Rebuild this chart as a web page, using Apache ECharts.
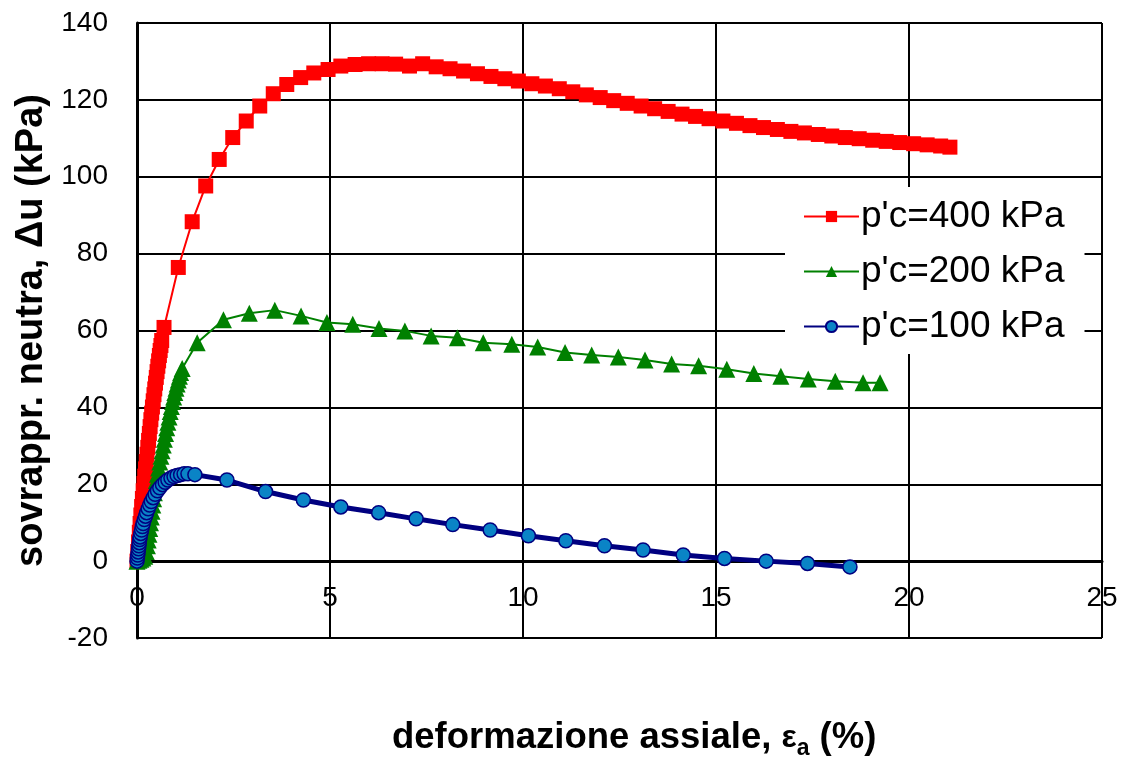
<!DOCTYPE html>
<html>
<head>
<meta charset="utf-8">
<script src="https://cdn.jsdelivr.net/npm/echarts@6/dist/echarts.min.js"></script>
<style>html,body{margin:0;padding:0;background:#fff}#c{width:1128px;height:762px}</style>
</head>
<body>
<div id="c"></div>
<script>
// ---- data (axial strain %, excess pore pressure kPa) ----
const seriesNames = ["p'c=400 kPa", "p'c=200 kPa", "p'c=100 kPa"];
const xTicks = [0, 5, 10, 15, 20, 25];
const yTicks = [-20, 0, 20, 40, 60, 80, 100, 120, 140];

const p400X = [0,0.02,0.04,0.06,0.08,0.10,0.12,0.14,0.16,0.18,0.20,0.22,0.24,0.26,0.28,0.30,0.32,0.34,0.36,0.38,0.40,0.42,0.44,0.46,0.48,0.50,0.52,0.54,0.56,0.58,0.60,0.62,0.64,
  0.70,1.07,1.43,1.78,2.13,2.48,2.83,3.18,3.53,3.88,4.24,4.58,4.95,5.28,5.65,6.00,6.35,6.70,7.06,7.40,7.75,8.11,8.46,8.82,9.17,9.53,9.88,
  10.23,10.58,10.94,11.29,11.64,12.00,12.35,12.70,13.06,13.41,13.76,14.12,14.47,14.82,15.18,15.53,15.88,16.23,16.59,16.94,17.29,17.65,18.00,18.35,18.71,19.06,19.41,19.76,20.12,20.47,20.82,21.06];
const p400Y = [0,2.5,5,7.5,9.8,12,14.2,16.3,18.3,20.2,22.1,24,25.9,27.8,29.6,31.4,33.2,35,36.8,38.5,40.1,41.7,43.3,44.8,46.3,47.8,49.3,50.7,52.1,53.5,54.8,56.1,57.4,
  60.8,76.4,88.3,97.6,104.5,110.2,114.5,118.4,121.6,124.0,125.8,127.0,127.9,128.8,129.2,129.4,129.4,129.3,128.8,129.4,128.6,128.1,127.5,126.8,126.1,125.5,124.9,
  124.2,123.6,122.9,122.1,121.3,120.6,119.8,119.1,118.4,117.7,117.0,116.3,115.7,115.1,114.5,113.9,113.3,112.8,112.3,111.8,111.4,111.0,110.6,110.2,109.9,109.5,109.2,108.9,108.6,108.3,108.0,107.7];

const p200X = [0,0.05,0.10,0.15,0.20,0.24,0.27,0.29,0.31,0.33,0.35,0.37,0.39,0.41,0.43,0.45,0.47,0.50,0.53,0.56,0.59,0.62,0.65,0.68,0.71,0.74,0.77,0.80,0.83,0.86,0.89,0.92,0.95,0.98,1.01,1.04,1.07,1.10,1.13,1.17,
  1.56,2.24,2.91,3.57,4.25,4.92,5.59,6.27,6.94,7.62,8.30,8.97,9.71,10.38,11.09,11.78,12.47,13.16,13.85,14.55,15.28,15.98,16.68,17.39,18.09,18.81,19.25];
const p200Y = [0,0.2,0.5,0.8,1.3,2.5,4,5.5,7,8.5,10,11.5,13,14.6,16.2,17.8,19.4,21,22.6,24.2,25.8,27.3,28.7,30.2,31.7,33.2,34.7,36.1,37.5,38.9,40.2,41.5,42.7,43.9,45,46.1,47.1,48.1,49.1,50.1,
  56.8,62.8,64.5,65.3,63.8,62.1,61.6,60.5,59.9,58.6,58.1,56.8,56.4,55.7,54.3,53.6,53.1,52.3,51.3,50.8,49.9,48.8,48.1,47.4,46.8,46.4,46.4];

const p100X = [0,0.01,0.02,0.03,0.04,0.05,0.06,0.07,0.08,0.10,0.12,0.14,0.16,0.19,0.22,0.25,0.29,0.33,0.37,0.42,0.47,0.53,0.59,0.66,0.73,0.80,0.88,0.96,1.04,1.13,1.22,1.32,
  1.50,2.33,3.33,4.31,5.28,6.26,7.23,8.18,9.15,10.14,11.11,12.11,13.11,14.15,15.22,16.30,17.37,18.47];
const p100Y = [0,0.8,1.6,2.4,3.2,4,4.8,5.6,6.3,7.2,8.1,9,9.8,10.8,11.7,12.6,13.6,14.6,15.5,16.5,17.4,18.3,19.1,19.9,20.5,21.1,21.6,22,22.3,22.5,22.7,22.7,
  22.5,21.1,18.1,15.9,14.1,12.6,11.0,9.5,8.1,6.6,5.3,4.0,2.9,1.6,0.7,0.0,-0.6,-1.5];

function zip(xs, ys){ return xs.map((x,i)=>[x, ys[i]]); }

const FONT = "'Liberation Sans', Arial, sans-serif";
const chart = echarts.init(document.getElementById('c'), null, {renderer:'canvas'});
chart.setOption({
  animation: false,
  backgroundColor: '#fff',
  grid: {left: 137, right: 26, top: 23, bottom: 124, containLabel: false},
  title: {
    text: '{b|deformazione assiale, }{e|ε}{s|a}{b| (%)}',
    left: 392, top: 716, padding: 0,
    textStyle: {
      rich: {
        b: {fontFamily: FONT, fontSize: 36.5, fontWeight: 'bold', color: '#000', lineHeight: 44},
        e: {fontFamily: FONT, fontSize: 32, color: '#000', lineHeight: 44},
        s: {fontFamily: FONT, fontSize: 23, fontWeight: 'bold', color: '#000', lineHeight: 24, verticalAlign: 'bottom'}
      }
    }
  },
  legend: {
    orient: 'vertical',
    left: 785, top: 187,
    padding: [11, 20, 9, 18],
    backgroundColor: '#fff',
    itemWidth: 55, itemHeight: 14, itemGap: 18,
    textStyle: {fontFamily: FONT, fontSize: 37, color: '#000', padding: [0,0,0,-3]},
    data: seriesNames
  },
  xAxis: {
    type: 'value', min: xTicks[0], max: xTicks[xTicks.length-1], interval: 5,
    axisLine: {onZero: true, lineStyle: {color: '#000', width: 3}},
    axisTick: {show: false},
    axisLabel: {fontFamily: FONT, fontSize: 28, color: '#000', margin: -54},
    splitLine: {show: true, lineStyle: {color: '#000', width: 2}}
  },
  yAxis: {
    type: 'value', min: yTicks[0], max: yTicks[yTicks.length-1], interval: 20,
    name: 'sovrappr. neutra, Δu (kPa)', nameLocation: 'middle', nameGap: 81, nameRotate: 90,
    nameTextStyle: {fontFamily: FONT, fontSize: 38, fontWeight: 'bold', color: '#000'},
    axisLine: {show: true, lineStyle: {color: '#000', width: 3}},
    axisTick: {show: false},
    axisLabel: {fontFamily: FONT, fontSize: 28, color: '#000', margin: 29},
    splitLine: {show: true, lineStyle: {color: '#000', width: 2}}
  },
  series: [
    {name: seriesNames[0], type: 'line', data: zip(p400X, p400Y), symbol: 'rect', symbolSize: 15, showAllSymbol: true,
     lineStyle: {color: '#ff0000', width: 2}, itemStyle: {color: '#ff0000'}, z: 2},
    {name: seriesNames[1], type: 'line', data: zip(p200X, p200Y), symbol: 'triangle', symbolSize: 17, showAllSymbol: true,
     lineStyle: {color: '#008000', width: 2}, itemStyle: {color: '#008000'}, z: 3},
    {name: seriesNames[2], type: 'line', data: zip(p100X, p100Y), symbol: 'circle', symbolSize: 14, showAllSymbol: true,
     lineStyle: {color: '#000080', width: 5}, itemStyle: {color: '#0a84c6', borderColor: '#000080', borderWidth: 1.5}, z: 4}
  ]
});
</script>
</body>
</html>
